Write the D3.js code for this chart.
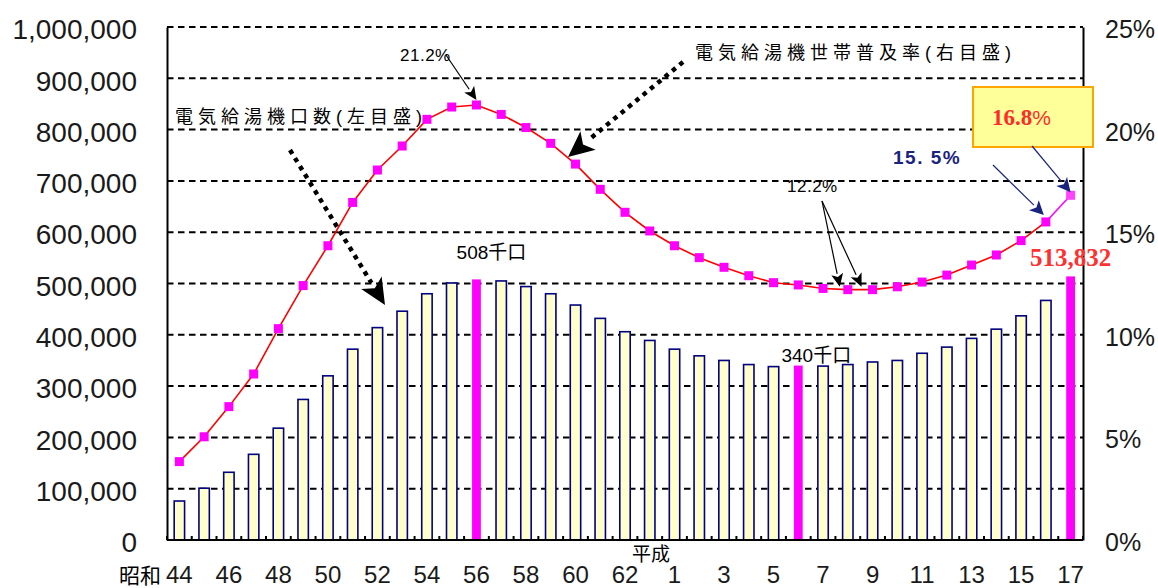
<!DOCTYPE html>
<html>
<head>
<meta charset="utf-8">
<script src="https://cdn.jsdelivr.net/npm/d3@7"></script>
<style>
  html, body { margin: 0; padding: 0; background: #fff; }
  svg { display: block; }
</style>
</head>
<body>
<svg id="chart" width="1158" height="588"></svg>
<script>
// Fiscal years: Showa 44–63, then Heisei 1–17
const years = ["44","45","46","47","48","49","50","51","52","53","54","55","56","57","58","59","60","61","62","63",
               "1","2","3","4","5","6","7","8","9","10","11","12","13","14","15","16","17"];

// Number of electric water heaters (units, left axis)
const units = [76000, 101000, 132000, 167000, 218000, 274000, 320000, 372000, 414000, 446000,
               480000, 501000, 508000, 505000, 494000, 480000, 458000, 432000, 406000, 389000,
               372000, 359000, 350000, 342000, 338000, 340000, 339000, 342000, 347000, 350000,
               364000, 376000, 393000, 411000, 437000, 467000, 513832];

// Household penetration rate (%, right axis)
const rates = [3.82, 5.03, 6.5, 8.09, 10.3, 12.4, 14.34, 16.45, 18.03, 19.2,
               20.5, 21.1, 21.2, 20.74, 20.1, 19.33, 18.32, 17.09, 15.97, 15.06,
               14.34, 13.76, 13.29, 12.88, 12.54, 12.43, 12.26, 12.2, 12.2, 12.34,
               12.57, 12.91, 13.4, 13.89, 14.59, 15.5, 16.8];

// Years whose bars are emphasised
const highlighted = [12, 25, 36];

const leftTicks = [0, 100000, 200000, 300000, 400000, 500000, 600000, 700000, 800000, 900000, 1000000];
const rightTicks = [0, 5, 10, 15, 20, 25];

const svg = d3.select("#chart");
const plot = { left: 167, right: 1083, top: 27, bottom: 540 };

const idx = d3.range(years.length);
const x = d3.scaleBand().domain(idx).range([plot.left, plot.right])
  .paddingInner(0.58).paddingOuter(0.29);
const xc = i => x(i) + x.bandwidth() / 2;
const yL = d3.scaleLinear().domain([0, 1000000]).range([plot.bottom, plot.top]);
const yR = d3.scaleLinear().domain([0, 25]).range([plot.bottom, plot.top]);

const SANS = "'Liberation Sans', Arial, sans-serif";
const CJK = "'Liberation Sans', 'Noto Sans CJK JP', sans-serif";
const SERIF = "'Liberation Serif', 'Times New Roman', serif";

// Dashed horizontal gridlines
svg.append("g").selectAll("line").data(leftTicks.slice(1)).join("line")
  .attr("x1", plot.left).attr("x2", plot.right)
  .attr("y1", d => yL(d)).attr("y2", d => yL(d))
  .attr("stroke", "#000").attr("stroke-width", 2)
  .attr("stroke-dasharray", "6.5,4.5");

// Bars
svg.append("g").selectAll("rect").data(idx).join("rect")
  .attr("x", i => highlighted.includes(i) ? x(i) + 0.8 : x(i))
  .attr("width", i => highlighted.includes(i) ? x.bandwidth() - 1.6 : x.bandwidth())
  .attr("y", i => yL(units[i]))
  .attr("height", i => yL(0) - yL(units[i]))
  .attr("fill", i => highlighted.includes(i) ? "#ff00ff" : "#ffffcc")
  .attr("stroke", i => highlighted.includes(i) ? "none" : "#000080")
  .attr("stroke-width", 1.6);

// Left axis
const axL = svg.append("g").attr("transform", `translate(${plot.left},0)`)
  .call(d3.axisLeft(yL).tickValues(leftTicks).tickFormat(d3.format(",")).tickSize(0).tickPadding(30));
axL.select(".domain").attr("stroke", "#000").attr("stroke-width", 2);
axL.selectAll("text").attr("font-family", SANS).attr("font-size", 28).attr("fill", "#1a1a1a").attr("dy", "0.42em");

// Right axis
const axR = svg.append("g").attr("transform", `translate(${plot.right},0)`)
  .call(d3.axisRight(yR).tickValues(rightTicks).tickFormat(d => d + "%").tickSize(0).tickPadding(22));
axR.select(".domain").attr("stroke", "#000").attr("stroke-width", 2);
axR.selectAll("text").attr("font-family", SANS).attr("font-size", 25).attr("fill", "#1a1a1a").attr("dy", "0.42em");

// Bottom axis with small inner ticks at category boundaries
svg.append("line").attr("x1", plot.left).attr("x2", plot.right)
  .attr("y1", plot.bottom).attr("y2", plot.bottom)
  .attr("stroke", "#000").attr("stroke-width", 2);
svg.append("g").selectAll("line").data(d3.range(years.length + 1)).join("line")
  .attr("x1", i => plot.left + i * x.step()).attr("x2", i => plot.left + i * x.step())
  .attr("y1", plot.bottom).attr("y2", plot.bottom - 4)
  .attr("stroke", "#000").attr("stroke-width", 2);

svg.append("g").selectAll("text").data(idx.filter(i => i % 2 === 0)).join("text")
  .attr("x", i => xc(i)).attr("y", 583)
  .attr("text-anchor", "middle")
  .attr("font-family", SANS).attr("font-size", 24).attr("fill", "#1a1a1a")
  .text(i => years[i]);

svg.append("text").attr("x", 140).attr("y", 583).attr("text-anchor", "middle")
  .attr("font-family", CJK).attr("font-size", 21).text("昭和");
svg.append("text").attr("x", 651).attr("y", 561).attr("text-anchor", "middle")
  .attr("font-family", CJK).attr("font-size", 19).text("平成");

// Penetration-rate line
const line = d3.line().x(i => xc(i)).y(i => yR(rates[i]));
svg.append("path").datum(idx.slice(0, -1)).attr("d", line)
  .attr("fill", "none").attr("stroke", "#ff0000").attr("stroke-width", 1.6);
svg.append("path").datum(idx.slice(-2)).attr("d", line)
  .attr("fill", "none").attr("stroke", "#ff00ff").attr("stroke-width", 1.6);

svg.append("g").selectAll("rect").data(idx).join("rect")
  .attr("x", i => xc(i) - 4.5).attr("y", i => yR(rates[i]) - 4.5)
  .attr("width", 9).attr("height", 9)
  .attr("fill", i => i === idx.length - 1 ? "#ff44ff" : "#ff00ff");

// Arrow helper: line from (x1,y1) to the base of a triangular head whose tip is (x2,y2)
function arrow(x1, y1, x2, y2, o) {
  const dx = x2 - x1, dy = y2 - y1, len = Math.hypot(dx, dy);
  const ux = dx / len, uy = dy / len;
  const bx = x2 - ux * o.head, by = y2 - uy * o.head;
  svg.append("line").attr("x1", x1).attr("y1", y1).attr("x2", bx).attr("y2", by)
    .attr("stroke", o.color).attr("stroke-width", o.width)
    .attr("stroke-dasharray", o.dash || null);
  const px = -uy * o.half, py = ux * o.half;
  svg.append("path")
    .attr("d", `M${x2},${y2}L${bx + px},${by + py}L${bx + ux * o.head * 0.25},${by + uy * o.head * 0.25}L${bx - px},${by - py}Z`)
    .attr("fill", o.color);
}

const dotted = { color: "#000", width: 4.5, dash: "4.5,5", head: 26, half: 12 };
const thin = { color: "#000", width: 1.2, head: 13, half: 6 };
const navy = { color: "#1a237e", width: 1.2, head: 14, half: 7 };

// Series captions with dotted leaders
svg.append("text").attr("x", 175).attr("y", 117).attr("dominant-baseline", "central")
  .attr("font-family", CJK).attr("font-size", 18).attr("letter-spacing", 5)
  .text("電気給湯機口数(左目盛)");
arrow(290, 150, 385, 305, dotted);

svg.append("text").attr("x", 695).attr("y", 53).attr("dominant-baseline", "central")
  .attr("font-family", CJK).attr("font-size", 18).attr("letter-spacing", 5)
  .text("電気給湯機世帯普及率(右目盛)");
arrow(683, 62, 568, 157, dotted);

// Value callouts
svg.append("text").attr("x", 400).attr("y", 55).attr("dominant-baseline", "central")
  .attr("font-family", SANS).attr("font-size", 17).attr("letter-spacing", 0.5).text("21.2%");
arrow(446, 55, xc(12), yR(rates[12]) - 5, thin);

svg.append("text").attr("x", 787).attr("y", 186).attr("dominant-baseline", "central")
  .attr("font-family", SANS).attr("font-size", 17).attr("letter-spacing", 0.5).text("12.2%");
arrow(822, 201, xc(27) - 8, yR(rates[27]) - 3, thin);
arrow(822, 201, xc(28) - 11, yR(rates[28]) - 3, thin);

svg.append("text").attr("x", 893).attr("y", 157).attr("dominant-baseline", "central")
  .attr("font-family", SANS).attr("font-size", 19).attr("font-weight", "bold").attr("letter-spacing", 1.5)
  .attr("fill", "#1a237e").text("15. 5%");
arrow(993, 165, xc(35) - 2, yR(rates[35]) - 7, navy);

svg.append("rect").attr("x", 973).attr("y", 87).attr("width", 120).attr("height", 60)
  .attr("fill", "#ffff99").attr("stroke", "#ffa500").attr("stroke-width", 2);
const t168 = svg.append("text").attr("x", 992).attr("y", 117).attr("dominant-baseline", "central")
  .attr("font-family", SERIF).attr("font-size", 23).attr("font-weight", "bold").attr("fill", "#ff2a2a");
t168.append("tspan").text(rates[36].toFixed(1));
t168.append("tspan").attr("font-family", SANS).attr("font-weight", "normal").attr("font-size", 21).text("%");
arrow(1032, 146, xc(36), yR(rates[36]) - 3, navy);

svg.append("text").attr("x", 1030).attr("y", 257).attr("dominant-baseline", "central")
  .attr("font-family", SERIF).attr("font-size", 25).attr("font-weight", "bold").attr("fill", "#ff3030")
  .text(d3.format(",")(units[36]));

svg.append("text").attr("x", xc(12) + 15).attr("y", 252).attr("text-anchor", "middle").attr("dominant-baseline", "central")
  .attr("font-family", CJK).attr("font-size", 19)
  .text(Math.round(units[12] / 1000) + "千口");
svg.append("text").attr("x", xc(25) + 18).attr("y", 355).attr("text-anchor", "middle").attr("dominant-baseline", "central")
  .attr("font-family", CJK).attr("font-size", 19)
  .text(Math.round(units[25] / 1000) + "千口");
</script>
</body>
</html>
